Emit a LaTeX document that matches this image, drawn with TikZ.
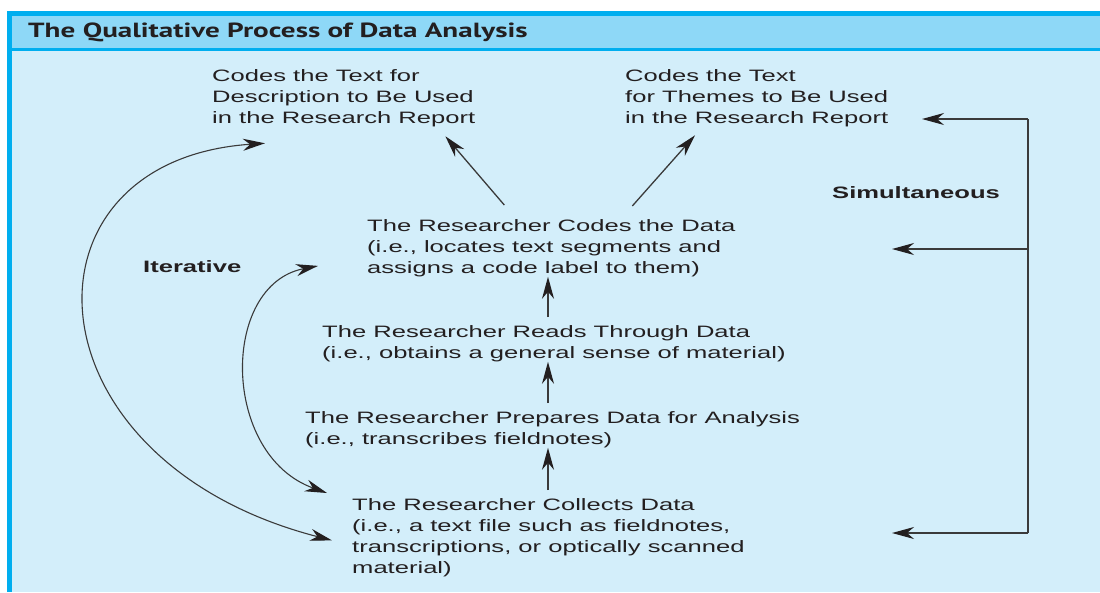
\documentclass[tikz,border=0pt]{standalone}
\usepackage{fontspec}
\setmainfont[FakeStretch=1.55]{Liberation Sans}
\newfontfamily\headfont[FakeStretch=1.42]{PT Sans}
\usetikzlibrary{arrows.meta}
\definecolor{framecyan}{HTML}{00AEEF}
\definecolor{headblue}{HTML}{8ED8F7}
\definecolor{bodyblue}{HTML}{D3EEFA}
\definecolor{inkgray}{HTML}{231F20}
\definecolor{linegray}{HTML}{3A3A3A}
\begin{document}
\begin{tikzpicture}[x=1pt,y=-1pt,
	txt/.style={anchor=north west,align=left,inner sep=0pt,text=inkgray,font=\fontsize{16.5}{21}\selectfont},
	lbl/.style={anchor=west,inner sep=0pt,text=inkgray,font=\fontsize{16.5}{21}\selectfont\bfseries},
	arr/.style={draw=linegray,line width=1.3pt,-{Stealth[length=22pt,width=12pt,inset=7pt,color=inkgray]}},
	twoarr/.style={draw=linegray,line width=1.1pt,{Stealth[length=22pt,width=12pt,inset=7pt,color=inkgray]}-{Stealth[length=22pt,width=12pt,inset=7pt,color=inkgray]}}]
		\useasboundingbox (0,0) rectangle (1100,592);
		%frame
		\fill[white] (0,0) rectangle (1100,592);
		\fill[framecyan] (7,11) rectangle (1100,592);
		\fill[headblue] (12,16) rectangle (1100,48.3);
		\fill[bodyblue] (12,50.5) rectangle (1100,592);
		\node[anchor=west,inner sep=0pt,text=inkgray,font=\headfont\fontsize{20.5}{24}\selectfont\bfseries] (title) at (28,32) {The Qualitative Process of Data Analysis};
		%text blocks
		\node[txt] (desc) at (212,69) {Codes the Text for\\Description to Be Used\\in the Research Report};
		\node[txt] (themes) at (625,69) {Codes the Text\\for Themes to Be Used\\in the Research Report};
		\node[txt] (codes) at (367,219) {The Researcher Codes the Data\\(i.e., locates text segments and\\assigns a code label to them)};
		\node[txt] (reads) at (322,325) {The Researcher Reads Through Data\\(i.e., obtains a general sense of material)};
		\node[txt] (prep) at (305,411) {The Researcher Prepares Data for Analysis\\(i.e., transcribes fieldnotes)};
		\node[txt] (coll) at (352,498) {The Researcher Collects Data\\(i.e., a text file such as fieldnotes,\\transcriptions, or optically scanned\\material)};
		\node[lbl] (iter) at (143,267) {Iterative};
		\node[lbl] (simul) at (832,193) {Simultaneous};
		%upward arrows
		\coordinate (spine) at (548,0);
		\draw[arr] ([yshift=8pt]reads.north -| spine) -- (codes.south -| spine);
		\draw[arr] ([yshift=8pt]prep.north -| spine) -- (reads.south -| spine);
		\draw[arr] ([yshift=8pt]coll.north -| spine) -- (prep.south -| spine);
		\draw[arr] ([shift={(-47,-14)}]codes.north) -- ([shift={(-30,9.5)}]desc.south east);
		\draw[arr] ([shift={(81,-13)}]codes.north) -- ([shift={(70,8.5)}]themes.south west);
		%iterative loops
		\draw[twoarr] ([shift={(53,16.5)}]desc.south west) .. controls +(-255,17) and +(-310,-80) .. ([shift={(-20,3)}]coll.west);
		\draw[twoarr] ([shift={(-49,18)}]codes.west) .. controls +(-98,19) and +(-106,-38) .. ([shift={(-25,-5)}]coll.north west);
		%simultaneous bracket
		\coordinate (simtop) at (1028,119);
		\coordinate (simmid) at (1028,249);
		\coordinate (simbot) at (1028,533);
		\coordinate (tiptop) at (922,119);
		\coordinate (tipmid) at (892,249);
		\coordinate (tipbot) at (892,533);
		\draw[linegray,line width=1.3pt] (simtop) -- (simbot);
		\draw[arr] (simtop) -- (tiptop);
		\draw[arr] (simmid) -- (tipmid);
		\draw[arr] (simbot) -- (tipbot);
\end{tikzpicture}
\end{document}
